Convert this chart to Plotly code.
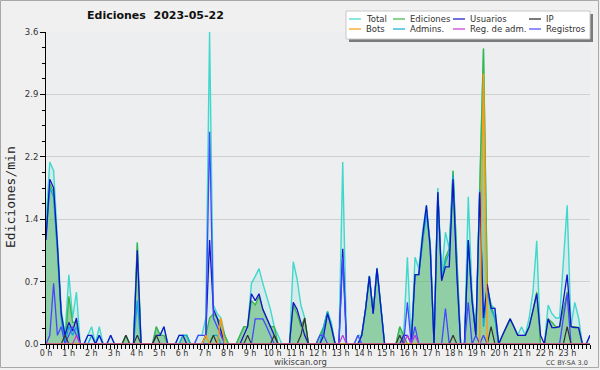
import plotly.graph_objects as go

# 10-minute bins over the day (144 points), values in edits/min
total = [
    1.4, 2.1, 2.0, 1.2, 0.4, 0.1, 0.8, 0.3, 0.6, 0, 0, 0.1,
    0.2, 0, 0.2, 0, 0, 0.1, 0, 0, 0, 0.1, 0, 0,
    1.17, 0, 0, 0, 0, 0.2, 0.1, 0.2, 0, 0, 0, 0.1,
    0.1, 0.1, 0, 0, 0.1, 0.1, 0.3, 3.6, 0.45, 0.35, 0.3, 0.1,
    0, 0, 0, 0.1, 0.2, 0.2, 0.7, 0.78, 0.87, 0.7, 0.55, 0.4,
    0.2, 0.1, 0, 0, 0, 0.95, 0.75, 0.45, 0.3, 0, 0, 0,
    0.1, 0.2, 0.38, 0.25, 0, 0, 2.1, 0, 0, 0, 0.1, 0.1,
    0.4, 0.79, 0.36, 0.88, 0.44, 0, 0, 0, 0, 0.2, 0.1, 1.0,
    0, 1.0, 0.87, 1.3, 1.6, 1.15, 0, 1.8, 0.8, 1.29, 1.1, 2.0,
    0.9, 0, 0, 1.7, 0.6, 0.1, 1.8, 3.41, 0.65, 0.45, 0.41, 0,
    0.1, 0.2, 0.29, 0.2, 0.1, 0.2, 0.1, 0.3, 0.6, 1.19, 0, 0,
    0.45, 0.35, 0.3, 0.3, 0.95, 1.6, 0.2, 0.48, 0.3, 0, 0, 0.1,
]
ediciones = [
    1.3, 1.85, 1.75, 1.1, 0.35, 0, 0.55, 0.25, 0.25, 0, 0, 0,
    0, 0, 0, 0, 0, 0, 0, 0, 0, 0.1, 0, 0,
    1.17, 0, 0, 0, 0, 0.2, 0.1, 0.1, 0, 0, 0, 0,
    0.1, 0.1, 0, 0, 0, 0, 0.1, 0.3, 0.35, 0.3, 0.25, 0.1,
    0, 0, 0, 0.1, 0.2, 0.2, 0.5, 0.45, 0.55, 0.4, 0.3, 0.2,
    0.2, 0, 0, 0, 0, 0.45, 0.35, 0.2, 0.3, 0, 0, 0,
    0.1, 0.2, 0.37, 0.2, 0, 0, 0, 0, 0, 0, 0, 0.1,
    0.4, 0.78, 0.35, 0.87, 0.43, 0, 0, 0, 0, 0.2, 0.1, 0,
    0, 0.8, 0.8, 1.2, 1.55, 1.15, 0, 1.75, 0.75, 1.0, 1.1, 2.0,
    0.9, 0, 0, 1.2, 0.5, 0.1, 1.75, 3.41, 0.65, 0.45, 0.3, 0,
    0.1, 0.2, 0.29, 0.2, 0.1, 0.1, 0.1, 0.2, 0.38, 0.6, 0, 0,
    0.29, 0.25, 0.2, 0.2, 0.4, 0.6, 0.2, 0.2, 0.19, 0, 0, 0,
]
usuarios = [
    1.2, 1.9, 1.8, 1.15, 0.35, 0.1, 0.25, 0.15, 0.3, 0, 0, 0.1,
    0.1, 0, 0.1, 0, 0, 0.1, 0, 0, 0, 0, 0, 0,
    1.08, 0, 0, 0, 0, 0.1, 0.1, 0.2, 0, 0, 0, 0.1,
    0.1, 0, 0, 0, 0, 0, 0.1, 1.2, 0.4, 0.3, 0.15, 0,
    0, 0, 0, 0, 0.1, 0.2, 0.58, 0.5, 0.58, 0.4, 0.3, 0.2,
    0.1, 0, 0, 0, 0, 0.48, 0.4, 0.25, 0.1, 0, 0, 0,
    0, 0.1, 0.35, 0.2, 0, 0, 1.1, 0, 0, 0, 0, 0.1,
    0.4, 0.78, 0.35, 0.87, 0.43, 0, 0, 0, 0, 0, 0.1, 0.1,
    0, 0.8, 0.8, 1.25, 1.6, 1.1, 0, 1.75, 0.73, 0.89, 0.89, 1.9,
    0.8, 0, 0, 1.2, 0.5, 0.1, 1.75, 0.3, 0.69, 0.41, 0.41, 0,
    0.1, 0.2, 0.29, 0.2, 0.1, 0.1, 0.1, 0.2, 0.38, 0.58, 0.1, 0,
    0.29, 0.19, 0.19, 0.2, 0.5, 0.8, 0.2, 0.19, 0.19, 0, 0, 0.1,
]
ip = [
    0, 0, 0, 0, 0, 0.1, 0, 0, 0, 0, 0, 0,
    0, 0, 0, 0, 0, 0, 0, 0, 0, 0.1, 0, 0,
    0.1, 0, 0, 0, 0, 0.1, 0, 0, 0, 0, 0, 0,
    0, 0, 0, 0, 0, 0, 0, 0, 0.1, 0, 0, 0,
    0, 0, 0, 0, 0, 0.1, 0, 0, 0, 0, 0, 0,
    0.1, 0, 0, 0, 0, 0, 0, 0.1, 0.3, 0, 0, 0,
    0, 0, 0, 0, 0, 0, 0, 0, 0, 0, 0, 0,
    0, 0, 0, 0, 0, 0, 0, 0, 0, 0.1, 0, 0,
    0, 0, 0, 0, 0, 0, 0, 0, 0, 0, 0, 0.1,
    0, 0, 0, 0, 0, 0, 0, 0, 0, 0.2, 0, 0,
    0, 0, 0, 0, 0, 0, 0, 0, 0, 0, 0, 0,
    0, 0, 0, 0, 0, 0.2, 0, 0, 0, 0, 0, 0,
]
bots = [
    0, 0, 0, 0, 0, 0, 0, 0, 0, 0, 0, 0,
    0, 0, 0, 0, 0, 0, 0, 0, 0, 0, 0, 0,
    0, 0, 0, 0, 0, 0, 0, 0, 0, 0, 0, 0,
    0, 0, 0, 0, 0, 0, 0.1, 0, 0, 0, 0.3, 0,
    0, 0, 0, 0, 0, 0, 0, 0, 0, 0, 0, 0,
    0, 0, 0, 0, 0, 0, 0, 0, 0, 0, 0, 0,
    0, 0, 0, 0, 0, 0, 0, 0, 0, 0, 0, 0,
    0, 0, 0, 0, 0, 0, 0, 0, 0, 0, 0, 0,
    0, 0, 0, 0, 0, 0, 0, 0, 0, 0, 0, 0,
    0, 0, 0, 0, 0, 0, 0, 3.12, 0, 0, 0, 0,
    0, 0, 0, 0, 0, 0, 0, 0, 0, 0, 0, 0,
    0, 0, 0, 0, 0, 0, 0, 0, 0, 0, 0, 0,
]
admins = [
    1.25, 1.8, 1.7, 1.1, 0.3, 0, 0.2, 0.1, 0.2, 0, 0, 0,
    0.1, 0, 0.1, 0, 0, 0, 0, 0, 0, 0, 0, 0,
    0.5, 0, 0, 0, 0, 0, 0, 0, 0, 0, 0, 0,
    0.1, 0.1, 0, 0, 0, 0, 0, 0, 0.1, 0.1, 0, 0,
    0, 0, 0, 0, 0, 0, 0, 0, 0, 0, 0, 0,
    0, 0, 0, 0, 0, 0, 0, 0, 0, 0, 0, 0,
    0, 0.2, 0.37, 0.2, 0, 0, 0, 0, 0, 0, 0, 0.1,
    0.4, 0.78, 0.35, 0.87, 0.43, 0, 0, 0, 0, 0, 0, 0,
    0, 0.8, 0.8, 1.2, 1.5, 1.15, 0, 1.75, 0.75, 0.95, 1.05, 1.95,
    0.85, 0, 0, 1.2, 0.5, 0.1, 1.78, 0.2, 0.6, 0.4, 0.3, 0,
    0, 0, 0, 0, 0, 0, 0, 0, 0, 0, 0, 0,
    0, 0, 0, 0, 0, 0, 0, 0, 0, 0, 0, 0,
]
reg_adm = [
    0, 0, 0, 0, 0, 0, 0, 0, 0.1, 0, 0, 0,
    0, 0, 0, 0, 0, 0, 0, 0, 0, 0, 0, 0,
    0, 0, 0, 0, 0, 0, 0, 0, 0, 0, 0, 0,
    0, 0, 0, 0, 0, 0, 0, 0, 0, 0, 0, 0,
    0, 0, 0, 0, 0, 0, 0, 0, 0, 0, 0, 0,
    0, 0, 0, 0, 0, 0, 0, 0, 0, 0, 0, 0,
    0, 0, 0, 0, 0, 0, 0.1, 0, 0, 0, 0, 0,
    0, 0, 0, 0, 0, 0, 0, 0, 0, 0, 0, 0.1,
    0, 0.1, 0, 0, 0, 0, 0, 0, 0, 0, 0, 0,
    0, 0, 0, 0, 0, 0, 0, 0, 0, 0, 0, 0,
    0, 0, 0, 0, 0, 0, 0, 0, 0, 0, 0, 0,
    0, 0, 0, 0, 0, 0, 0, 0, 0, 0, 0, 0,
]
registros = [
    0, 0.1, 0.7, 0.1, 0.2, 0, 0.1, 0.2, 0.1, 0, 0, 0,
    0, 0, 0, 0, 0, 0, 0, 0, 0, 0, 0, 0,
    0, 0, 0, 0, 0, 0, 0, 0, 0, 0, 0, 0,
    0, 0, 0, 0, 0.1, 0.1, 0.1, 2.45, 0.3, 0.2, 0.1, 0,
    0, 0, 0, 0, 0, 0, 0, 0.29, 0.29, 0.29, 0.2, 0.1,
    0, 0, 0, 0, 0, 0, 0, 0, 0, 0, 0, 0,
    0.1, 0.1, 0, 0, 0, 0, 1.0, 0, 0, 0, 0.1, 0,
    0, 0, 0, 0, 0, 0, 0, 0, 0, 0, 0, 0.48,
    0, 0.2, 0, 0, 0, 0, 0, 0, 0, 0.41, 0, 0,
    0, 0, 0, 0.48, 0, 0.1, 0, 0.1, 0, 0, 0, 0,
    0, 0, 0, 0, 0, 0, 0, 0, 0, 0, 0, 0,
    0, 0, 0, 0, 0.3, 0.58, 0, 0, 0, 0, 0, 0,
]

hour_labels = [f"{h} h" for h in range(24)]
y_ticks = [0, 0.72, 1.44, 2.16, 2.88, 3.6]
y_labels = ["0.0", "0.7", "1.4", "2.2", "2.9", "3.6"]

n = len(total)
x = [i * 24 / (n - 1) for i in range(n)]

C_TOTAL = "#40d8cc"
C_EDIC = "#3cb446"
C_USU = "#1414c8"
C_IP = "#333333"
C_BOTS = "#ff9a10"
C_ADM = "#12a8d8"
C_REGADM = "#c636d6"
C_REG = "#4646ff"

fig = go.Figure()
fig.add_trace(go.Scatter(x=x, y=total, mode="lines", fill="tozeroy",
                         fillcolor="rgba(64,214,200,0.13)",
                         line=dict(color=C_TOTAL, width=1.4), name="Total"))
fig.add_trace(go.Scatter(x=x, y=ediciones, mode="lines", fill="tozeroy",
                         fillcolor="rgba(70,175,90,0.48)",
                         line=dict(color=C_EDIC, width=1.3), name="Ediciones"))
fig.add_trace(go.Scatter(x=x, y=admins, mode="lines",
                         line=dict(color=C_ADM, width=1.4), name="Admins."))
fig.add_trace(go.Scatter(x=x, y=usuarios, mode="lines",
                         line=dict(color=C_USU, width=1.3), name="Usuarios"))
fig.add_trace(go.Scatter(x=x, y=registros, mode="lines",
                         line=dict(color=C_REG, width=1.3), name="Registros"))
fig.add_trace(go.Scatter(x=x, y=ip, mode="lines",
                         line=dict(color=C_IP, width=1.2), name="IP"))
fig.add_trace(go.Scatter(x=x, y=bots, mode="lines",
                         line=dict(color=C_BOTS, width=1.4), name="Bots"))
fig.add_trace(go.Scatter(x=x, y=reg_adm, mode="lines",
                         line=dict(color=C_REGADM, width=1.2), name="Reg. de adm."))

L, R, T, B = 46, 10, 32, 26
W, H = 600, 370
PW, PH = W - L - R, H - T - B


def px(v):
    return (v - L) / PW


def py(v):
    return (H - B - v) / PH


shapes = []
annotations = []

# outer frame
shapes.append(dict(type="rect", xref="paper", yref="paper", layer="above",
                   x0=px(0.5), x1=px(598.5), y0=py(0.5), y1=py(367.5),
                   line=dict(color="#a8a8a8", width=1)))

# legend box with shadow
shapes.append(dict(type="rect", xref="paper", yref="paper", layer="above",
                   x0=px(349), x1=px(593), y0=py(14), y1=py(42),
                   fillcolor="#7a7a7a", line=dict(width=0)))
shapes.append(dict(type="rect", xref="paper", yref="paper", layer="above",
                   x0=px(346), x1=px(590), y0=py(11), y1=py(39),
                   fillcolor="#ffffff", line=dict(color="#c8c8c8", width=1)))

legend_items = [
    ("Total", C_TOTAL, 349, 19), ("Ediciones", C_EDIC, 393, 19),
    ("Usuarios", C_USU, 453, 19), ("IP", "#222222", 529, 19),
    ("Bots", C_BOTS, 349, 29), ("Admins.", C_ADM, 393, 29),
    ("Reg. de adm.", C_REGADM, 453, 29), ("Registros", C_REG, 529, 29),
]
for label, col, lx, ly in legend_items:
    shapes.append(dict(type="line", xref="paper", yref="paper", layer="above",
                       x0=px(lx), x1=px(lx + 12), y0=py(ly), y1=py(ly),
                       line=dict(color=col, width=1.2)))
    annotations.append(dict(text=label, xref="paper", yref="paper",
                            x=px(lx + 15), y=py(ly), xanchor="left", yanchor="middle",
                            showarrow=False,
                            font=dict(family="DejaVu Sans", size=8.5, color="#333333")))

annotations.append(dict(text="Ediciones\u00a0 2023-05-22", xref="paper", yref="paper",
                        x=px(85), y=py(16), xanchor="left", yanchor="middle",
                        showarrow=False,
                        font=dict(family="DejaVu Sans", size=11, color="#111111",
                                  weight="bold")))
annotations.append(dict(text="Ediciones/min", xref="paper", yref="paper",
                        x=px(10), y=py(197), xanchor="center", yanchor="middle",
                        textangle=-90, showarrow=False,
                        font=dict(family="DejaVu Sans Mono", size=13, color="#222222")))
annotations.append(dict(text="wikiscan.org", xref="paper", yref="paper",
                        x=px(300), y=py(362), xanchor="center", yanchor="middle",
                        showarrow=False,
                        font=dict(family="DejaVu Sans", size=8.5, color="#444444")))
annotations.append(dict(text="CC BY-SA 3.0", xref="paper", yref="paper",
                        x=px(590), y=py(362.5), xanchor="right", yanchor="middle",
                        showarrow=False,
                        font=dict(family="DejaVu Sans", size=6.5, color="#444444")))

fig.update_layout(
    width=W, height=H,
    margin=dict(l=L, r=R, t=T, b=B, pad=0, autoexpand=False),
    paper_bgcolor="#f0f0f0",
    plot_bgcolor="#eceef0",
    showlegend=False,
    shapes=shapes,
    annotations=annotations,
    xaxis=dict(range=[0, 24], tickmode="array", tickvals=list(range(24)),
               ticktext=hour_labels, tickangle=0, automargin=False,
               ticks="outside", ticklen=4, tickcolor="#000",
               ticklabelstandoff=-3,
               showline=True, linecolor="#000", linewidth=1, showgrid=False,
               zeroline=False,
               tickfont=dict(family="DejaVu Sans", size=8, color="#333333"),
               minor=dict(tickmode="array", tickvals=[k / 6 for k in range(145)],
                          ticks="outside", ticklen=4, tickcolor="#000", showgrid=False)),
    yaxis=dict(range=[0, 3.6], tickmode="array", tickvals=y_ticks, ticktext=y_labels,
               automargin=False,
               ticks="outside", ticklen=5, tickcolor="#000",
               showline=True, linecolor="#000", linewidth=1,
               showgrid=True, gridcolor="#cfcfcf", gridwidth=1, zeroline=False,
               tickfont=dict(family="DejaVu Sans", size=8.5, color="#333333"),
               minor=dict(tickmode="array",
                          tickvals=[k * 0.18 for k in range(21)],
                          ticks="outside", ticklen=3, tickcolor="#000", showgrid=False)),
)

fig.write_html("out.html")
